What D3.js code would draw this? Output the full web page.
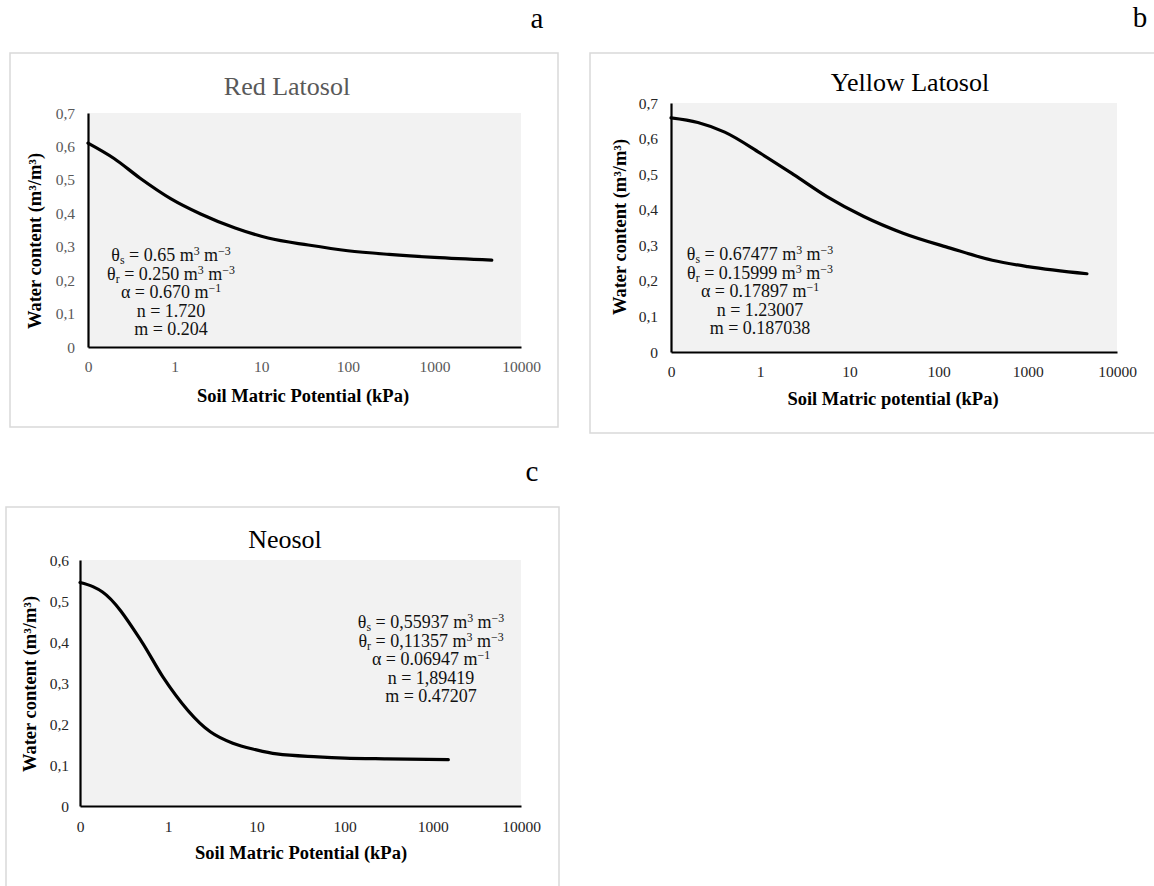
<!DOCTYPE html>
<html>
<head>
<meta charset="utf-8">
<script src="https://cdn.jsdelivr.net/npm/d3@7"></script>
<style>
  body { margin: 0; background: #fff; }
  svg { display: block; }
  text { font-family: "Liberation Serif", "Times New Roman", serif; }
</style>
</head>
<body>
<svg id="fig" width="1154" height="886"></svg>
<script>
// Soil matric potential axis (log scale, lowest decade labelled "0")
const potentialTicks = [0.1, 1, 10, 100, 1000, 10000];
const potentialTickLabels = ["0", "1", "10", "100", "1000", "10000"];

// Water content ticks
const latosolWaterTicks = [0, 0.1, 0.2, 0.3, 0.4, 0.5, 0.6, 0.7];
const neosolWaterTicks = [0, 0.1, 0.2, 0.3, 0.4, 0.5, 0.6];

// Retention curves: matric potential (kPa) and water content (m3/m3)
const redLatosolPotential = [0.1, 0.2, 0.4, 0.9, 2, 5, 12, 35, 100, 300, 1000, 4600];
const redLatosolWater     = [0.610, 0.564, 0.505, 0.444, 0.398, 0.356, 0.326, 0.305, 0.288, 0.277, 0.268, 0.260];

const yellowLatosolPotential = [0.1, 0.2, 0.4, 1, 2.4, 5.6, 14.5, 40, 135, 400, 1000, 4600];
const yellowLatosolWater     = [0.658, 0.645, 0.618, 0.559, 0.498, 0.437, 0.381, 0.334, 0.292, 0.258, 0.240, 0.220];

const neosolPotential = [0.1, 0.14, 0.18, 0.5, 0.87, 3, 5.4, 10, 17, 50, 100, 300, 1500];
const neosolWater     = [0.545, 0.535, 0.522, 0.401, 0.315, 0.181, 0.153, 0.137, 0.127, 0.120, 0.117, 0.115, 0.113];

// Fitted van Genuchten parameters (_{..} subscript, ^{..} superscript)
const redLatosolParams = [
  "θ_{s} = 0.65 m^{3} m^{−3}",
  "θ_{r} = 0.250 m^{3} m^{−3}",
  "α = 0.670 m^{−1}",
  "n = 1.720",
  "m = 0.204"
];
const yellowLatosolParams = [
  "θ_{s} = 0.67477 m^{3} m^{−3}",
  "θ_{r} = 0.15999 m^{3} m^{−3}",
  "α = 0.17897 m^{−1}",
  "n = 1.23007",
  "m = 0.187038"
];
const neosolParams = [
  "θ_{s} = 0,55937 m^{3} m^{−3}",
  "θ_{r} = 0,11357 m^{3} m^{−3}",
  "α = 0.06947 m^{−1}",
  "n = 1,89419",
  "m = 0.47207"
];

const panelTitles = ["Red Latosol", "Yellow Latosol", "Neosol"];
const panelLetters = ["a", "b", "c"];
const xAxisTitles = ["Soil Matric Potential (kPa)", "Soil Matric potential (kPa)", "Soil Matric Potential (kPa)"];
const yAxisTitle = "Water content (m³/m³)";

const svg = d3.select("#fig");
const commaFormat = d => d === 0 ? "0" : d3.format(".1f")(d).replace(".", ",");

const panels = [
  {
    potential: redLatosolPotential, water: redLatosolWater, params: redLatosolParams,
    yTicks: latosolWaterTicks, yMax: 0.7,
    frame: { x: 10, y: 53, w: 548, h: 374 },
    plot: { l: 88, r: 521, t: 113, b: 347 },
    title: { x: 287, y: 95, color: "#595959" },
    letter: { x: 537, y: 28 },
    tickColor: "#595959", yTickX: 75, xTickDy: 25,
    xTitle: { x: 303, y: 402 }, yTitle: { x: 41, y: 241 },
    note: { x: 171, y: 261, dy: 18.6 }
  },
  {
    potential: yellowLatosolPotential, water: yellowLatosolWater, params: yellowLatosolParams,
    yTicks: latosolWaterTicks, yMax: 0.7,
    frame: { x: 590, y: 53, w: 600, h: 380 },
    plot: { l: 671, r: 1117, t: 103, b: 352 },
    title: { x: 910, y: 91, color: "#000" },
    letter: { x: 1140, y: 27 },
    tickColor: "#262626", yTickX: 658, xTickDy: 25,
    xTitle: { x: 893, y: 405 }, yTitle: { x: 626, y: 227 },
    note: { x: 760, y: 260, dy: 18.6 }
  },
  {
    potential: neosolPotential, water: neosolWater, params: neosolParams,
    yTicks: neosolWaterTicks, yMax: 0.6,
    frame: { x: 6, y: 507, w: 553, h: 400 },
    plot: { l: 80, r: 521, t: 560, b: 806 },
    title: { x: 285, y: 548, color: "#000" },
    letter: { x: 532, y: 481 },
    tickColor: "#262626", yTickX: 69, xTickDy: 26,
    xTitle: { x: 301, y: 859 }, yTitle: { x: 36, y: 684 },
    note: { x: 431, y: 628, dy: 18.6 }
  }
];

// Append one line with _{sub} and ^{sup} markup as tspans; the first tspan
// starts the line at (x, y)
function richLine(sel, str, x, y) {
  const parts = [];
  const re = /([_^])\{([^}]*)\}/g;
  let last = 0, m;
  while ((m = re.exec(str)) !== null) {
    if (m.index > last) parts.push({ t: str.slice(last, m.index), k: "" });
    parts.push({ t: m[2], k: m[1] });
    last = re.lastIndex;
  }
  if (last < str.length) parts.push({ t: str.slice(last), k: "" });
  let shift = 0;
  parts.forEach((p, j) => {
    const target = p.k === "_" ? 3 : p.k === "^" ? -6 : 0;
    const ts = sel.append("tspan")
      .attr("font-size", p.k ? "0.66em" : null)
      .text(p.t);
    if (j === 0) ts.attr("x", x).attr("y", y + target);
    else ts.attr("dy", target - shift);
    shift = target;
  });
}

panels.forEach((p, i) => {
  const g = svg.append("g");

  g.append("rect")
    .attr("x", p.frame.x).attr("y", p.frame.y)
    .attr("width", p.frame.w).attr("height", p.frame.h)
    .attr("fill", "#fff").attr("stroke", "#d9d9d9").attr("stroke-width", 1.5);

  const x = d3.scaleLog().domain([0.1, 10000]).range([p.plot.l, p.plot.r]);
  const y = d3.scaleLinear().domain([0, p.yMax]).range([p.plot.b, p.plot.t]);

  g.append("rect")
    .attr("x", p.plot.l).attr("y", p.plot.t)
    .attr("width", p.plot.r - p.plot.l).attr("height", p.plot.b - p.plot.t)
    .attr("fill", "#f2f2f2");

  // Axes
  const xAxis = g.append("g")
    .attr("transform", `translate(0,${p.plot.b})`)
    .call(d3.axisBottom(x).tickValues(potentialTicks)
      .tickFormat((d, k) => potentialTickLabels[k]).tickSize(0));
  xAxis.selectAll("text").attr("y", p.xTickDy).attr("dy", null);

  const yAxis = g.append("g")
    .attr("transform", `translate(${p.plot.l},0)`)
    .call(d3.axisLeft(y).tickValues(p.yTicks).tickFormat(commaFormat)
      .tickSize(0).tickPadding(p.plot.l - p.yTickX));
  yAxis.selectAll("text").attr("dy", "0.33em");

  [xAxis, yAxis].forEach(a => {
    a.select(".domain").attr("stroke", "#000").attr("stroke-width", 2.2);
    a.selectAll("text")
      .attr("font-family", "'Liberation Serif', serif")
      .attr("font-size", 15.5)
      .attr("fill", p.tickColor);
  });

  // Curve
  const pts = p.potential.map((h, k) => [h, p.water[k]]);
  g.append("path")
    .datum(pts)
    .attr("fill", "none")
    .attr("stroke", "#000")
    .attr("stroke-width", 3.2)
    .attr("stroke-linecap", "round")
    .attr("stroke-linejoin", "round")
    .attr("d", d3.line().x(d => x(d[0])).y(d => y(d[1])).curve(d3.curveMonotoneX));

  // Titles
  g.append("text")
    .attr("x", p.title.x).attr("y", p.title.y)
    .attr("text-anchor", "middle").attr("font-size", 26)
    .attr("fill", p.title.color)
    .text(panelTitles[i]);

  g.append("text")
    .attr("x", p.letter.x).attr("y", p.letter.y)
    .attr("text-anchor", "middle").attr("font-size", 29)
    .attr("fill", "#000")
    .text(panelLetters[i]);

  g.append("text")
    .attr("x", p.xTitle.x).attr("y", p.xTitle.y)
    .attr("text-anchor", "middle").attr("font-size", 18.5).attr("font-weight", "bold")
    .attr("fill", "#000")
    .text(xAxisTitles[i]);

  g.append("text")
    .attr("transform", `translate(${p.yTitle.x},${p.yTitle.y}) rotate(-90)`)
    .attr("text-anchor", "middle").attr("font-size", 18.5).attr("font-weight", "bold")
    .attr("fill", "#000")
    .text(yAxisTitle);

  // Parameter note: one text block, one line per parameter
  const note = g.append("text")
    .attr("text-anchor", "middle").attr("font-size", 18)
    .attr("fill", "#111");
  p.params.forEach((line, k) => richLine(note, line, p.note.x, p.note.y + k * p.note.dy));
});
</script>
</body>
</html>
